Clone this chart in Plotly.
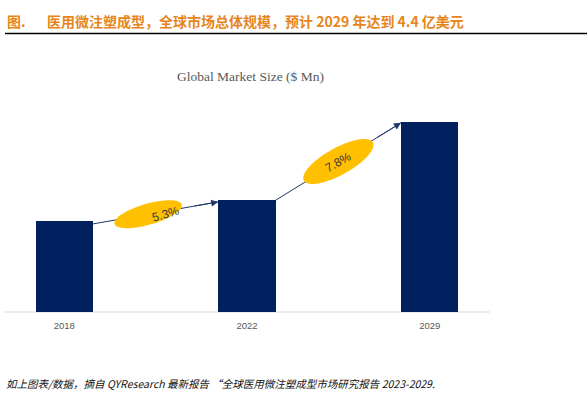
import numpy as np
import plotly.graph_objects as go

# ---- data ----
categories = ["2018", "2022", "2029"]
market_size = [211, 259, 440]          # $ Mn
cagr_labels = ["5.3%", "7.8%"]

header_prefix = "图."
header_text = "医用微注塑成型，全球市场总体规模，预计 2029 年达到 4.4 亿美元"
chart_title = "Global Market Size ($ Mn)"
footnote = "如上图表/数据，摘自 QYResearch 最新报告 “全球医用微注塑成型市场研究报告 2023-2029."

# ---- layout constants ----
FW, FH = 587, 399
PX_L, PX_R = 4, 490          # x-axis domain in px
PY_B, PY_T = 312, 100        # y-axis domain in px (bottom, top)
XR = [-0.33, 2.33]
BAR_W = 0.315
YMAX = market_size[-1] * (PY_B - PY_T) / (PY_B - 122)

NAVY = "#002060"
GOLD = "#FFC000"
ARROW = "#1F3864"

x = list(range(len(categories)))


def to_px(xd, yd):
    px = PX_L + (xd - XR[0]) / (XR[1] - XR[0]) * (PX_R - PX_L)
    py = PY_B - yd / YMAX * (PY_B - PY_T)
    return px, py


def px_to_paper(px, py):
    return px / FW, 1 - py / FH


fig = go.Figure()
fig.add_trace(go.Bar(x=x, y=market_size, width=BAR_W, marker=dict(color=NAVY, line=dict(width=0)),
                     hoverinfo="skip"))

shapes = []
annotations = []

# arrows between bars, with growth ellipses
arrow_specs = [
    # (from idx, to idx, start y offset, end y offset, ellipse t, a, b, angle)
    (0, 1, -7, -4, 0.44, 35, 10.5, 16),
    (1, 2, 0, -2, 0.50, 39.5, 13.5, 29),
]
for k, (i, j, dy0, dy1, t, a, b, ang) in enumerate(arrow_specs):
    x0 = x[i] + BAR_W / 2
    y0 = market_size[i] + dy0
    x1 = x[j] - BAR_W / 2
    y1 = market_size[j] + dy1
    shapes.append(dict(type="line", xref="x", yref="y", x0=x0, y0=y0, x1=x1, y1=y1,
                       line=dict(color=ARROW, width=1), layer="above"))
    # arrowhead
    annotations.append(dict(x=x1, y=y1, ax=x0 + 0.8 * (x1 - x0), ay=y0 + 0.8 * (y1 - y0),
                            xref="x", yref="y", axref="x", ayref="y", text="",
                            showarrow=True, arrowhead=2, arrowsize=1.4, arrowwidth=1,
                            arrowcolor=ARROW, standoff=0))
    # ellipse
    p0 = np.array(to_px(x0, y0))
    p1 = np.array(to_px(x1, y1))
    c = p0 + t * (p1 - p0)
    th = np.linspace(0, 2 * np.pi, 73)
    rad = np.deg2rad(ang)
    ex = a * np.cos(th)
    ey = b * np.sin(th)
    px = c[0] + ex * np.cos(rad) + ey * np.sin(rad)
    py = c[1] - ex * np.sin(rad) + ey * np.cos(rad)
    pts = [px_to_paper(u, v) for u, v in zip(px, py)]
    path = "M " + " L ".join(f"{u:.5f},{v:.5f}" for u, v in pts) + " Z"
    shapes.append(dict(type="path", xref="paper", yref="paper", path=path,
                       fillcolor=GOLD, line=dict(width=0), layer="above"))
    cx, cy = px_to_paper(c[0], c[1])
    annotations.append(dict(x=cx, y=cy, xref="paper", yref="paper", text=cagr_labels[k],
                            showarrow=False, textangle=-ang,
                            font=dict(family="Liberation Sans, Arial", size=12, color="#3a3a3a")))

# x axis baseline
shapes.append(dict(type="line", xref="paper", yref="paper",
                   x0=PX_L / FW, x1=PX_R / FW, y0=1 - PY_B / FH, y1=1 - PY_B / FH,
                   line=dict(color="#D9D9D9", width=1), layer="below"))
# header rule
shapes.append(dict(type="line", xref="paper", yref="paper",
                   x0=5 / FW, x1=1, y0=1 - 33.5 / FH, y1=1 - 33.5 / FH,
                   line=dict(color="#000000", width=1.3)))

# header text
annotations.append(dict(x=5 / FW, y=1 - 21 / FH, xref="paper", yref="paper", xanchor="left",
                        yanchor="middle", text=f"<b>{header_prefix}</b>", showarrow=False,
                        font=dict(family="Noto Sans CJK SC", size=14, color="#E8851A")))
annotations.append(dict(x=45 / FW, y=1 - 21 / FH, xref="paper", yref="paper", xanchor="left",
                        yanchor="middle", text=f"<b>{header_text}</b>", showarrow=False,
                        font=dict(family="Noto Sans CJK SC", size=14, color="#E8851A")))
# chart title
annotations.append(dict(x=250 / FW, y=1 - 76 / FH, xref="paper", yref="paper", xanchor="center",
                        yanchor="middle", text=chart_title, showarrow=False,
                        font=dict(family="Liberation Serif, DejaVu Serif", size=13.5, color="#595959")))
# footnote
annotations.append(dict(x=4 / FW, y=1 - 383 / FH, xref="paper", yref="paper", xanchor="left",
                        yanchor="middle", text=footnote, showarrow=False,
                        font=dict(family="Noto Sans CJK SC", size=10.5, color="#111111",
                                  style="italic")))

fig.update_layout(
    width=FW, height=FH,
    margin=dict(l=0, r=0, t=0, b=0),
    paper_bgcolor="white", plot_bgcolor="white",
    showlegend=False,
    shapes=shapes,
    annotations=annotations,
    xaxis=dict(domain=[PX_L / FW, PX_R / FW], range=XR, tickvals=x, ticktext=categories,
               showgrid=False, zeroline=False, showline=False, ticks="", ticklen=0,
               ticklabelstandoff=6,
               tickfont=dict(family="Liberation Sans, Arial", size=9.5, color="#595959"),
               fixedrange=True),
    yaxis=dict(domain=[1 - PY_B / FH, 1 - PY_T / FH], range=[0, YMAX], showgrid=False,
               zeroline=False, showline=False, showticklabels=False, ticks="", fixedrange=True),
    bargap=0,
)

fig.write_html("out.html", config={"displayModeBar": False},
               post_script="document.body.style.margin='0';document.body.style.overflow='hidden';")
